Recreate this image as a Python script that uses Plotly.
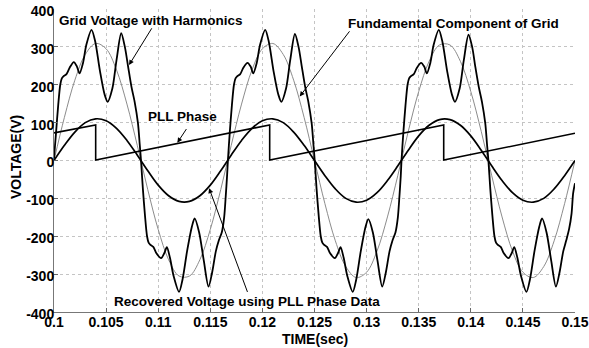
import plotly.graph_objects as go

# ---------------- data ----------------
# Grid voltage with harmonics (time in s, voltage in V)
harm_t = [
    0.10000, 0.10020, 0.10040, 0.10060, 0.10075, 0.10090, 0.10120, 0.10150, 0.10190, 0.10220,
    0.10245, 0.10278, 0.10310, 0.10360, 0.10395, 0.10440, 0.10485, 0.10515, 0.10560, 0.10600,
    0.10645, 0.10680, 0.10710, 0.10743, 0.10774, 0.10806, 0.10822,
    0.10835, 0.10853, 0.10873, 0.10893, 0.10908, 0.10923, 0.10953, 0.10983, 0.11028, 0.11058,
    0.11083, 0.11113, 0.11148, 0.11200, 0.11233, 0.11278, 0.11323, 0.11350, 0.11393, 0.11438,
    0.11483, 0.11518, 0.11553, 0.11583, 0.11610, 0.11633, 0.11648, 0.11661,
    0.11669, 0.11687, 0.11707, 0.11727, 0.11742, 0.11757, 0.11787, 0.11817, 0.11857, 0.11887,
    0.11912, 0.11945, 0.11977, 0.12027, 0.12062, 0.12107, 0.12152, 0.12182, 0.12227, 0.12267,
    0.12312, 0.12347, 0.12377, 0.12410, 0.12441, 0.12473, 0.12489,
    0.12502, 0.12520, 0.12540, 0.12560, 0.12575, 0.12590, 0.12620, 0.12650, 0.12695, 0.12725,
    0.12750, 0.12780, 0.12815, 0.12867, 0.12900, 0.12945, 0.12990, 0.13017, 0.13060, 0.13105,
    0.13150, 0.13185, 0.13220, 0.13250, 0.13277, 0.13300, 0.13315, 0.13328,
    0.13335, 0.13353, 0.13373, 0.13393, 0.13408, 0.13423, 0.13453, 0.13483, 0.13523, 0.13553,
    0.13578, 0.13611, 0.13643, 0.13693, 0.13728, 0.13773, 0.13818, 0.13848, 0.13893, 0.13933,
    0.13978, 0.14013, 0.14043, 0.14076, 0.14107, 0.14139, 0.14155,
    0.14169, 0.14187, 0.14207, 0.14227, 0.14242, 0.14257, 0.14287, 0.14317, 0.14362, 0.14392,
    0.14417, 0.14447, 0.14482, 0.14534, 0.14567, 0.14612, 0.14657, 0.14684, 0.14727, 0.14772,
    0.14817, 0.14852, 0.14887, 0.14917, 0.14944, 0.14967, 0.14982, 0.15000,
]
harm_v = [
    5, 75, 145, 200, 217, 222, 228, 245, 260, 248,
    230, 257, 305, 345, 315, 238, 175, 155, 190, 265,
    336, 300, 250, 195, 155, 98, 45,
    0, -75, -145, -200, -217, -222, -228, -245, -258, -245,
    -229, -257, -305, -347, -315, -238, -175, -153, -190, -265,
    -333, -295, -240, -210, -190, -150, -95, -40,
    0, 75, 145, 200, 217, 222, 228, 245, 258, 248,
    230, 257, 305, 345, 313, 236, 175, 155, 190, 265,
    334, 300, 250, 195, 155, 98, 45,
    0, -75, -145, -200, -217, -222, -228, -245, -258, -245,
    -229, -257, -305, -347, -315, -238, -175, -155, -190, -265,
    -333, -295, -240, -210, -190, -150, -95, -40,
    0, 75, 145, 200, 217, 222, 228, 245, 258, 248,
    230, 257, 305, 345, 313, 236, 175, 155, 190, 265,
    332, 300, 248, 195, 155, 98, 45,
    0, -75, -145, -200, -217, -222, -228, -245, -258, -245,
    -229, -257, -305, -347, -315, -238, -175, -153, -190, -265,
    -333, -295, -240, -210, -180, -140, -87, -60,
]

# Fundamental component and recovered voltage, sampled every 1 ms
sine_t = [0.100 + 0.001 * k for k in range(51)]
fund_v = [0, 114, 212, 280, 309, 295, 239, 149, 39, -77, -182, -262, -305, -305, -262, -182, -77,
          39, 149, 239, 295, 309, 280, 212, 114, 0, -114, -212, -280, -309, -295, -239, -149, -39,
          77, 182, 262, 305, 305, 262, 182, 77, -39, -149, -239, -295, -309, -280, -212, -114, 0]
rec_v = [0, 40, 75, 100, 110, 105, 85, 53, 14, -27, -65, -93, -108, -108, -93, -65, -27,
         14, 53, 85, 105, 110, 100, 75, 40, 0, -40, -75, -100, -110, -105, -85, -53, -14,
         27, 65, 93, 108, 108, 93, 65, 27, -14, -53, -85, -105, -110, -100, -75, -40, 0]

# PLL phase (sawtooth)
pll_t = [0.1000, 0.1040, 0.1040, 0.1207, 0.1207, 0.1374, 0.1374, 0.1500]
pll_v = [73, 94, 1, 94, 1, 94, 1, 72]

x_ticks = [0.1, 0.105, 0.11, 0.115, 0.12, 0.125, 0.13, 0.135, 0.14, 0.145, 0.15]
x_labels = ["0.1", "0.105", "0.11", "0.115", "0.12", "0.125", "0.13", "0.135", "0.14", "0.145", "0.15"]
y_ticks = [-400, -300, -200, -100, 0, 100, 200, 300, 400]
y_labels = ["-400", "-300", "-200", "-100", "0", "100", "200", "300", "400"]

FONT = "Liberation Sans, Arial, Helvetica, sans-serif"

W, H = 589, 348
ML, MR, MT, MB = 54, 14, 9, 36

fig = go.Figure()
fig.add_trace(go.Scatter(x=sine_t, y=fund_v, mode="lines",
                         line=dict(color="#8c8c8c", width=1, shape="spline"), showlegend=False))
fig.add_trace(go.Scatter(x=sine_t, y=rec_v, mode="lines",
                         line=dict(color="black", width=1.7, shape="spline"), showlegend=False))
fig.add_trace(go.Scatter(x=pll_t, y=pll_v, mode="lines",
                         line=dict(color="black", width=1.6), showlegend=False))
fig.add_trace(go.Scatter(x=harm_t, y=harm_v, mode="lines",
                         line=dict(color="black", width=1.8, shape="spline", smoothing=0.8),
                         showlegend=False))

axis_common = dict(
    showgrid=True, gridcolor="#c4c4c4", griddash="dot", gridwidth=1, automargin=False,
    ticks="inside", ticklen=4, tickcolor="#666", showline=True, linecolor="#777", linewidth=1,
    zeroline=False, tickfont=dict(family=FONT, size=14, color="black", weight="bold"),
)
fig.update_xaxes(range=[0.1, 0.15], tickmode="array", tickvals=x_ticks, ticktext=x_labels,
                 ticklabelstandoff=-3, **axis_common)
fig.update_yaxes(range=[-400, 400], tickmode="array", tickvals=y_ticks, ticktext=y_labels,
                 ticklabelstandoff=-4, ticklabelshift=2, **axis_common)

ann_font = dict(family=FONT, size=13.5, color="black", weight="bold")
texts = [
    ("Grid Voltage with Harmonics", 0.10933, 370),
    ("Fundamental Component of Grid", 0.13836, 362),
    ("PLL Phase", 0.1123, 116),
    ("Recovered Voltage using PLL Phase Data", 0.11854, -373),
]
for txt, x, y in texts:
    fig.add_annotation(x=x, y=y, xref="x", yref="y", text=txt, showarrow=False, font=ann_font)

arrows = [  # (tip x, tip y, tail x, tail y)
    (0.1072, 252, 0.10947, 353),
    (0.12358, 169, 0.12847, 345),
    (0.11184, 47, 0.1128, 87),
    (0.11488, -73, 0.11862, -351),
]
for x, y, ax, ay in arrows:
    fig.add_annotation(x=x, y=y, ax=ax, ay=ay, xref="x", yref="y", axref="x", ayref="y",
                       text="", showarrow=True, arrowhead=2, arrowsize=1, arrowwidth=1,
                       arrowcolor="black")

pw, ph = W - ML - MR, H - MT - MB
fig.add_annotation(x=0.5, y=(H - 338.5 - MB) / ph, xref="paper", yref="paper", yanchor="middle",
                   text="TIME(sec)", showarrow=False,
                   font=dict(family=FONT, size=14, color="black", weight="bold"))
fig.add_annotation(x=(16 - ML) / pw, y=(H - 157 - MB) / ph, xref="paper", yref="paper",
                   xanchor="center", yanchor="middle",
                   text="VOLTAGE(V)", textangle=-90, showarrow=False,
                   font=dict(family=FONT, size=14, color="black", weight="bold"))

fig.update_layout(
    width=W, height=H,
    margin=dict(l=ML, r=MR, t=MT, b=MB),
    plot_bgcolor="white", paper_bgcolor="white",
)

fig.write_html("out.html")
